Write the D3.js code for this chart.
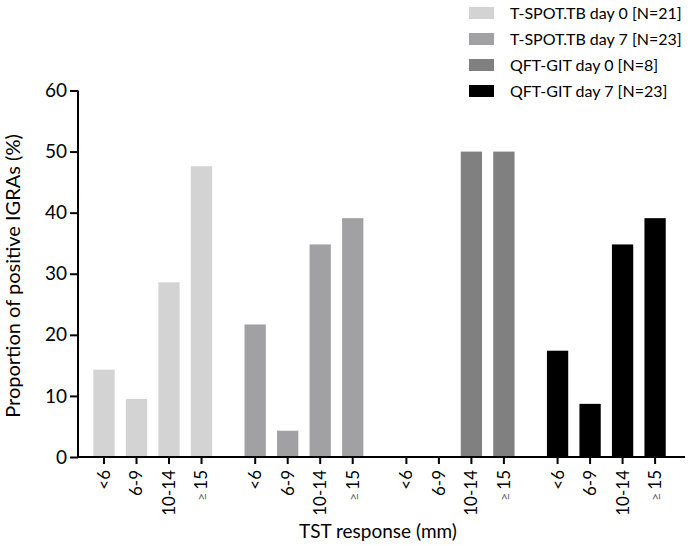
<!DOCTYPE html>
<html>
<head>
<meta charset="utf-8">
<script src="https://cdn.jsdelivr.net/npm/d3@7"></script>
<style>
  body { margin: 0; background: #fff; }
  svg { display: block; }
  text { font-family: Lato, "Open Sans", sans-serif; fill: #000; }
</style>
</head>
<body>
<svg id="chart" width="688" height="545"></svg>
<script>
const groups = ["T-SPOT.TB day 0 [N=21]", "T-SPOT.TB day 7 [N=23]", "QFT-GIT day 0 [N=8]", "QFT-GIT day 7 [N=23]"];
const categories = ["<6", "6-9", "10-14", "≥15"];
const tspotDay0 = [14.3, 9.5, 28.6, 47.6];
const tspotDay7 = [21.7, 4.3, 34.8, 39.1];
const qftDay0 = [0, 0, 50, 50];
const qftDay7 = [17.4, 8.7, 34.8, 39.1];
const seriesValues = [tspotDay0, tspotDay7, qftDay0, qftDay7];
const colors = ["#d3d3d3", "#a1a1a4", "#808080", "#000000"];
const yTicks = [0, 10, 20, 30, 40, 50, 60];
const xTitle = "TST response (mm)";
const yTitle = "Proportion of positive IGRAs (%)";

const svg = d3.select("#chart");
const axisX = 78, axisY = 457, axisRight = 685;

const y = d3.scaleLinear().domain([0, 60]).range([axisY, 90.5]);

const xGroup = d3.scaleBand().domain(groups).range([87.75, 671.35]).paddingInner(0.14).paddingOuter(0);
const xCat = d3.scaleBand().domain(categories).range([0, xGroup.bandwidth()]).paddingInner(0.345).paddingOuter(0.1725);

// bars
const data = [];
groups.forEach((g, gi) => categories.forEach((c, ci) => data.push({g, c, v: seriesValues[gi][ci], color: colors[gi]})));
svg.append("g").selectAll("rect").data(data).join("rect")
  .attr("x", d => xGroup(d.g) + xCat(d.c))
  .attr("width", xCat.bandwidth())
  .attr("y", d => y(d.v))
  .attr("height", d => axisY - y(d.v))
  .attr("fill", d => d.color);

// y axis
const yAxis = svg.append("g").attr("transform", `translate(${axisX},0)`)
  .call(d3.axisLeft(y).tickValues(yTicks).tickSize(8).tickPadding(3));
yAxis.select(".domain").attr("stroke", "#000").attr("stroke-width", 2).attr("d", `M0,${y(60)}V${axisY}`);
yAxis.selectAll(".tick line").attr("stroke", "#000").attr("stroke-width", 2);
yAxis.selectAll(".tick text").attr("font-size", 19).attr("font-family", "Lato, sans-serif").attr("fill", "#000");

// x axis line
svg.append("line").attr("x1", axisX - 1).attr("x2", axisRight).attr("y1", axisY).attr("y2", axisY)
  .attr("stroke", "#000").attr("stroke-width", 2);

// x ticks and labels
groups.forEach(g => {
  const sub = d3.scaleBand().domain(categories).range([xGroup(g), xGroup(g) + xGroup.bandwidth()])
    .paddingInner(0.345).paddingOuter(0.1725);
  const ax = svg.append("g").attr("transform", `translate(0,${axisY})`)
    .call(d3.axisBottom(sub).tickSize(7).tickSizeOuter(0).tickPadding(6));
  ax.select(".domain").remove();
  ax.selectAll(".tick line").attr("stroke", "#000").attr("stroke-width", 2);
  ax.selectAll(".tick text")
    .attr("font-size", 17).attr("font-family", "Lato, sans-serif").attr("fill", "#000")
    .attr("text-anchor", "end")
    .attr("transform", "rotate(-90)")
    .attr("x", -13).attr("y", 0).attr("dy", "0.35em")
    .each(function(d) {
      if (d === "≥15") {
        const t = d3.select(this).text(null);
        t.append("tspan").attr("font-size", 14).attr("fill", "#666").text("≥");
        t.append("tspan").attr("dx", 3).text("15");
      }
    });
});

// axis titles
svg.append("text").attr("x", 378).attr("y", 538).attr("text-anchor", "middle")
  .attr("font-size", 19).text(xTitle);
svg.append("text").attr("transform", "translate(20,276) rotate(-90)").attr("text-anchor", "middle")
  .attr("font-size", 20).text(yTitle);

// legend
const legend = svg.append("g");
groups.forEach((g, i) => {
  const cy = 13 + i * 26;
  legend.append("rect").attr("x", 469).attr("y", cy - 6).attr("width", 25).attr("height", 12).attr("fill", colors[i]);
  legend.append("text").attr("x", 510).attr("y", cy).attr("dy", "0.35em").attr("font-size", 16).text(g);
});
</script>
</body>
</html>
